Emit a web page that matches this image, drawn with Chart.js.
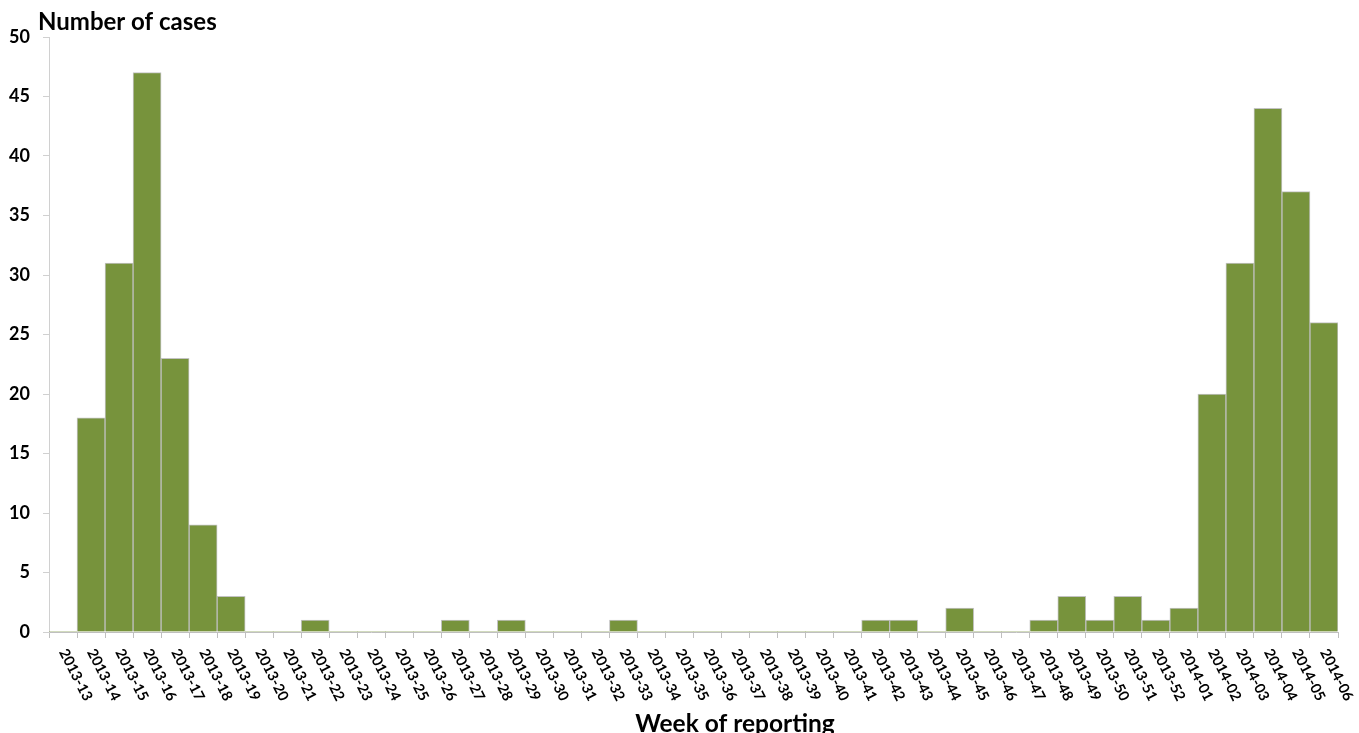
<!DOCTYPE html>
<html>
<head>
<meta charset="utf-8">
<script src="https://cdn.jsdelivr.net/npm/chart.js@4/dist/chart.umd.min.js"></script>
<style>
  html, body { margin: 0; padding: 0; background: #ffffff; }
  #wrap { width: 1359px; height: 733px; position: relative; }
</style>
</head>
<body>
<div id="wrap"><canvas id="chart" width="1359" height="733"></canvas></div>
<script>
// Weekly reported cases, 2013-13 to 2014-06
const weeks = [
  '2013-13','2013-14','2013-15','2013-16','2013-17','2013-18','2013-19','2013-20',
  '2013-21','2013-22','2013-23','2013-24','2013-25','2013-26','2013-27','2013-28',
  '2013-29','2013-30','2013-31','2013-32','2013-33','2013-34','2013-35','2013-36',
  '2013-37','2013-38','2013-39','2013-40','2013-41','2013-42','2013-43','2013-44',
  '2013-45','2013-46','2013-47','2013-48','2013-49','2013-50','2013-51','2013-52',
  '2014-01','2014-02','2014-03','2014-04','2014-05','2014-06'
];
const cases = [
  0, 18, 31, 47, 23, 9, 3, 0,
  0, 1, 0, 0, 0, 0, 1, 0,
  1, 0, 0, 0, 1, 0, 0, 0,
  0, 0, 0, 0, 0, 1, 1, 0,
  2, 0, 0, 1, 3, 1, 3, 1,
  2, 20, 31, 44, 37, 26
];
const yTicks = [0, 5, 10, 15, 20, 25, 30, 35, 40, 45, 50];

const yTitle = 'Number of cases';
const xTitle = 'Week of reporting';

const FONT = 'Lato, "Open Sans", "DejaVu Sans", sans-serif';

// Rotated week labels and the two axis titles
const labelPlugin = {
  id: 'weekLabels',
  afterDraw(chart) {
    const ctx = chart.ctx;
    const xs = chart.scales.x;
    ctx.save();
    ctx.fillStyle = '#000000';
    ctx.font = 'bold 14.5px ' + FONT;
    ctx.textAlign = 'left';
    ctx.textBaseline = 'middle';
    const angle = 63 * Math.PI / 180;
    weeks.forEach((w, i) => {
      const px = xs.getPixelForValue(i);
      ctx.save();
      ctx.translate(px, xs.top + 18);
      ctx.rotate(angle);
      ctx.fillText(w, 0, 0);
      ctx.restore();
    });
    ctx.font = 'bold 24px ' + FONT;
    ctx.textAlign = 'left';
    ctx.textBaseline = 'alphabetic';
    ctx.fillText(yTitle, 38, 30);
    ctx.font = 'bold 24.5px ' + FONT;
    ctx.textAlign = 'center';
    ctx.fillText(xTitle, 735, 732);
    ctx.restore();
  }
};

new Chart(document.getElementById('chart'), {
  type: 'bar',
  data: {
    labels: weeks,
    datasets: [{
      data: cases,
      backgroundColor: '#77933C',
      borderColor: 'rgba(170,170,170,0.7)',
      borderWidth: ctx => (ctx.raw > 0 ? 1 : 0),
      borderSkipped: 'bottom',
      barPercentage: 1.0,
      categoryPercentage: 1.0
    }]
  },
  options: {
    responsive: false,
    animation: false,
    layout: { padding: { top: 37, right: 21, left: 0, bottom: 0 } },
    plugins: {
      legend: { display: false },
      title: { display: false },
      tooltip: { enabled: false }
    },
    scales: {
      x: {
        type: 'category',
        offset: true,
        grid: {
          offset: true,
          drawOnChartArea: false,
          drawTicks: true,
          tickLength: 6,
          color: '#BFBFBF',
          lineWidth: 1
        },
        border: { color: '#BFBFBF', width: 1 },
        ticks: { display: false, autoSkip: false },
        afterFit(scale) { scale.height = 101; }
      },
      y: {
        min: 0,
        max: 50,
        afterBuildTicks(scale) { scale.ticks = yTicks.map(v => ({ value: v })); },
        grid: {
          drawOnChartArea: false,
          drawTicks: true,
          tickLength: 6,
          color: '#D0D0D0',
          lineWidth: 1
        },
        border: { color: '#D0D0D0', width: 1 },
        ticks: {
          color: '#000000',
          padding: 13,
          font: { family: FONT, size: 18, weight: 'bold' }
        },
        afterFit(scale) { scale.width = 49; }
      }
    }
  },
  plugins: [labelPlugin]
});
</script>
</body>
</html>
